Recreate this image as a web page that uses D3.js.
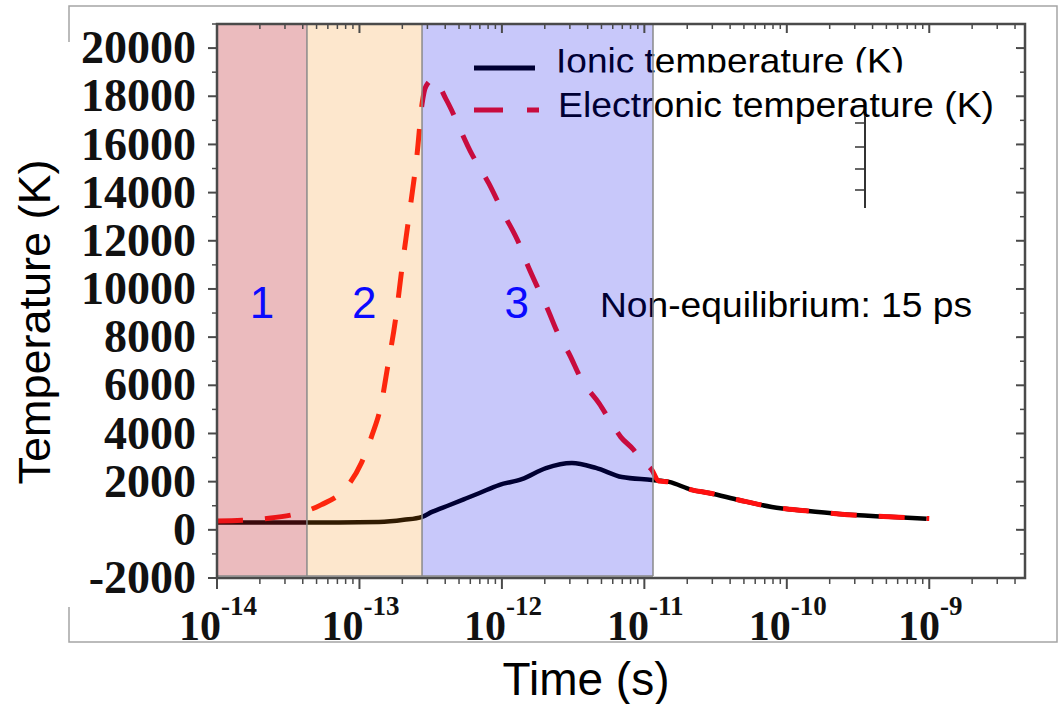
<!DOCTYPE html>
<html>
<head>
<meta charset="utf-8">
<script src="https://cdn.jsdelivr.net/npm/d3@7/dist/d3.min.js"></script>
<style>
  html, body { margin: 0; padding: 0; background: #fff; }
  svg { display: block; }
</style>
</head>
<body>
<svg id="chart" width="1060" height="704"></svg>
<script>
// ---------------- data ----------------
const ionicTime = [1.00e-14, 1.97e-14, 3.76e-14, 7.18e-14, 1.37e-13, 2.05e-13, 2.75e-13, 3.23e-13,
  4.25e-13, 5.58e-13, 6.90e-13, 9.53e-13, 1.38e-12, 2.04e-12, 3.10e-12, 4.57e-12, 6.95e-12,
  1.13e-11, 1.49e-11, 2.15e-11, 2.84e-11, 4.60e-11, 7.85e-11, 1.36e-10, 2.32e-10, 5.20e-10, 9.59e-10];
const ionicTemp = [300, 300, 300, 300, 320, 414, 540, 745,
  1020, 1300, 1520, 1860, 2100, 2560, 2770, 2570, 2190,
  2070, 1990, 1660, 1530, 1240, 950, 790, 660, 540, 460];

const electronTime = [1.00e-14, 1.50e-14, 2.24e-14, 3.58e-14, 5.37e-14, 8.04e-14, 1.03e-13, 1.22e-13,
  1.42e-13, 1.56e-13, 1.80e-13, 1.99e-13, 2.22e-13, 2.54e-13, 2.75e-13, 2.93e-13, 3.33e-13,
  4.05e-13, 6.15e-13, 8.11e-13, 1.03e-12, 1.32e-12, 1.50e-12, 1.82e-12, 2.07e-12, 2.51e-12,
  2.95e-12, 3.64e-12, 4.80e-12, 5.82e-12, 6.84e-12, 8.43e-12, 9.29e-12, 1.13e-11, 1.26e-11,
  1.49e-11, 2.15e-11, 2.84e-11, 4.60e-11, 7.85e-11, 1.36e-10, 2.32e-10, 5.20e-10, 1.00e-9];
const electronTemp = [370, 400, 470, 660, 1035, 1740, 2770, 3900,
  5200, 6600, 8820, 10890, 12960, 15610, 17680, 18420, 18710,
  17880, 15600, 14370, 13120, 11880, 11050, 9940, 9230, 8070,
  7330, 6210, 5260, 4470, 3850, 3310, 2950, 2480, 2030,
  1990, 1660, 1530, 1240, 950, 790, 660, 540, 470];

const regionStart = [1e-14, 4.28e-14, 2.75e-13];
const regionEnd = [4.28e-14, 2.75e-13, 1.15e-11];
const regionLabels = ["1", "2", "3"];
const regionLabelTime = [2.07e-14, 1.08e-13, 1.27e-12];

const yTickValues = [-2000, 0, 2000, 4000, 6000, 8000, 10000, 12000, 14000, 16000, 18000, 20000];
const xTickExponents = [-14, -13, -12, -11, -10, -9];
const seriesNames = ["Ionic temperature (K)", "Electronic temperature (K)"];
const annotation = "Non-equilibrium: 15 ps";

// ---------------- layout ----------------
const svg = d3.select("#chart");
const L = 217, R = 1025, T = 24, B = 578;
const x = d3.scaleLog().domain([1e-14, 4.7e-9]).range([L, R]);
const y = d3.scaleLinear().domain([-2000, 21000]).range([B, T]);

svg.append("rect").attr("width", 1060).attr("height", 704).attr("fill", "#fff");

// outer frame of the picture
svg.append("rect").attr("x", 69).attr("y", 6).attr("width", 988).attr("height", 636)
  .attr("fill", "none").attr("stroke", "#a5a5a5").attr("stroke-width", 1.5);
// white patch that hides the frame behind the tick labels
svg.append("rect").attr("x", 50).attr("y", 42).attr("width", 40).attr("height", 565).attr("fill", "#fff");

// y title
svg.append("text").attr("transform", "translate(50,322) rotate(-90)")
  .attr("text-anchor", "middle").attr("font-family", "Liberation Sans, Arial, sans-serif")
  .attr("font-size", 45).attr("fill", "#000").text("Temperature (K)");
// x title
svg.append("text").attr("x", 586).attr("y", 695)
  .attr("text-anchor", "middle").attr("font-family", "Liberation Sans, Arial, sans-serif")
  .attr("font-size", 46).attr("fill", "#000").text("Time (s)");

// plot background
svg.append("rect").attr("x", L).attr("y", T).attr("width", R - L).attr("height", B - T).attr("fill", "#fff");

const plot = svg.append("g");

// curves
const ionicData = ionicTime.map((t, i) => ({ t, v: ionicTemp[i] }));
const electronData = electronTime.map((t, i) => ({ t, v: electronTemp[i] }));
const line = d3.line().x(d => x(d.t)).y(d => y(d.v)).curve(d3.curveMonotoneX);

plot.append("path").datum(ionicData).attr("d", line)
  .attr("fill", "none").attr("stroke", "#000").attr("stroke-width", 4.5).attr("stroke-linejoin", "round");
plot.append("path").datum(electronData).attr("d", line)
  .attr("fill", "none").attr("stroke", "#ff1010").attr("stroke-width", 5)
  .attr("stroke-dasharray", "26,22");

// legend
const defs = svg.append("defs");
defs.append("clipPath").attr("id", "ionicClip").append("rect")
  .attr("x", 540).attr("y", 30).attr("width", 400).attr("height", 42.5);
plot.append("line").attr("x1", 474).attr("x2", 535).attr("y1", 68).attr("y2", 68)
  .attr("stroke", "#000").attr("stroke-width", 5);
plot.append("text").attr("x", 556).attr("y", 73).attr("clip-path", "url(#ionicClip)")
  .attr("font-family", "Liberation Sans, Arial, sans-serif").attr("font-size", 35)
  .attr("textLength", 348).attr("lengthAdjust", "spacingAndGlyphs")
  .attr("fill", "#000").text(seriesNames[0]);
plot.append("line").attr("x1", 474).attr("x2", 539).attr("y1", 110).attr("y2", 110)
  .attr("stroke", "#ff1010").attr("stroke-width", 5).attr("stroke-dasharray", "29,24");
plot.append("text").attr("x", 558).attr("y", 117)
  .attr("font-family", "Liberation Sans, Arial, sans-serif").attr("font-size", 34.5)
  .attr("textLength", 436).attr("lengthAdjust", "spacingAndGlyphs")
  .attr("fill", "#000").text(seriesNames[1]);

// annotation
plot.append("text").attr("x", 600).attr("y", 317)
  .attr("font-family", "Liberation Sans, Arial, sans-serif").attr("font-size", 34.5)
  .attr("textLength", 372).attr("lengthAdjust", "spacingAndGlyphs")
  .attr("fill", "#000").text(annotation);

// remnant axis fragment
plot.append("line").attr("x1", 865).attr("x2", 865).attr("y1", 116).attr("y2", 208)
  .attr("stroke", "#333").attr("stroke-width", 2);
[123, 147, 169, 190].forEach(v => plot.append("line").attr("x1", 855).attr("x2", 865)
  .attr("y1", v).attr("y2", v).attr("stroke", "#333").attr("stroke-width", 1.5));

// translucent region overlays
const regionFill = ["rgb(190,30,40)", "rgb(245,135,5)", "rgb(0,0,230)"];
const regionAlpha = [0.3, 0.2, 0.215];
regionStart.forEach((s, i) => {
  plot.append("rect").attr("x", x(s)).attr("y", T).attr("width", x(regionEnd[i]) - x(s))
    .attr("height", B - 2 - T).attr("fill", regionFill[i]).attr("fill-opacity", regionAlpha[i]);
});
regionStart.forEach((s, i) => {
  if (i > 0) plot.append("line").attr("x1", x(s)).attr("x2", x(s)).attr("y1", T).attr("y2", B - 2)
    .attr("stroke", "#8a8a8a").attr("stroke-width", 1.5);
});
plot.append("line").attr("x1", x(regionEnd[2])).attr("x2", x(regionEnd[2])).attr("y1", T).attr("y2", B - 2)
  .attr("stroke", "#8a8a8a").attr("stroke-width", 1.5);
plot.append("line").attr("x1", L).attr("x2", x(regionEnd[2])).attr("y1", B - 2).attr("y2", B - 2)
  .attr("stroke", "#8a8a8a").attr("stroke-width", 1.5);

regionLabels.forEach((lab, i) => {
  plot.append("text").attr("x", x(regionLabelTime[i])).attr("y", y(8800))
    .attr("text-anchor", "middle").attr("font-family", "Liberation Sans, Arial, sans-serif")
    .attr("font-size", 44).attr("fill", "#0a0aff").text(lab);
});

// ---------------- axes ----------------
const axisColor = "#4a4a4a";
const minorX = [];
for (let e = -14; e <= -9; e++) for (let m = 2; m <= 9; m++) {
  const v = m * Math.pow(10, e);
  if (v <= 4.7e-9) minorX.push(v);
}
const majorX = xTickExponents.map(e => Math.pow(10, e));
const minorY = d3.range(-1000, 21001, 2000);

const ax = svg.append("g").attr("stroke", axisColor);
majorX.forEach(v => ax.append("line").attr("x1", x(v)).attr("x2", x(v)).attr("y1", B).attr("y2", B + 11).attr("stroke-width", 2));
minorX.forEach(v => ax.append("line").attr("x1", x(v)).attr("x2", x(v)).attr("y1", B).attr("y2", B + 6).attr("stroke-width", 1.5));
majorX.forEach(v => ax.append("line").attr("x1", x(v)).attr("x2", x(v)).attr("y1", T).attr("y2", T + 9).attr("stroke-width", 2));
minorX.forEach(v => ax.append("line").attr("x1", x(v)).attr("x2", x(v)).attr("y1", T).attr("y2", T + 5).attr("stroke-width", 1.5));
yTickValues.forEach(v => ax.append("line").attr("x1", L - 9).attr("x2", L).attr("y1", y(v)).attr("y2", y(v)).attr("stroke-width", 2));
minorY.forEach(v => ax.append("line").attr("x1", L - 5).attr("x2", L).attr("y1", y(v)).attr("y2", y(v)).attr("stroke-width", 1.5));
yTickValues.forEach(v => ax.append("line").attr("x1", R - 9).attr("x2", R).attr("y1", y(v)).attr("y2", y(v)).attr("stroke-width", 2));
minorY.forEach(v => ax.append("line").attr("x1", R - 5).attr("x2", R).attr("y1", y(v)).attr("y2", y(v)).attr("stroke-width", 1.5));

// frame
svg.append("rect").attr("x", L).attr("y", T).attr("width", R - L).attr("height", B - T)
  .attr("fill", "none").attr("stroke", axisColor).attr("stroke-width", 2.5);

// y tick labels
yTickValues.forEach(v => {
  svg.append("text").attr("x", 196).attr("y", y(v)).attr("dy", "0.33em")
    .attr("text-anchor", "end").attr("font-family", "Liberation Serif, Times New Roman, serif")
    .attr("font-weight", "bold").attr("font-size", 46).attr("fill", "#111").text(v);
});
// x tick labels
xTickExponents.forEach(e => {
  const t = svg.append("text").attr("x", x(Math.pow(10, e)) + 1).attr("y", 640)
    .attr("text-anchor", "middle").attr("font-family", "Liberation Serif, Times New Roman, serif")
    .attr("font-weight", "bold").attr("fill", "#111");
  t.append("tspan").attr("font-size", 42).text("10");
  t.append("tspan").attr("font-size", 27).attr("dy", -25).text("-" + Math.abs(e));
});
</script>
</body>
</html>
